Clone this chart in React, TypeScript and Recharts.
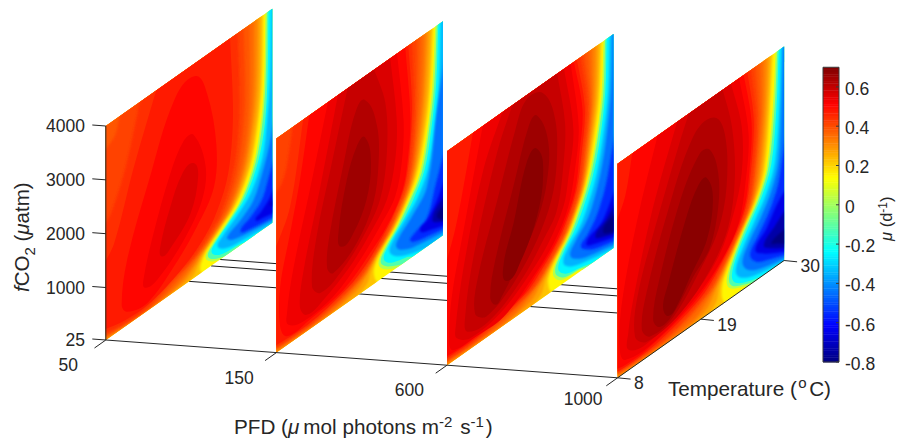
import React from "react";
import { ScatterChart, Scatter, XAxis, YAxis } from "recharts";

type Pt = [number, number];
type Contour = [number, Pt[]]; // [mu of the band, vertices as [temperature degC, fCO2 uatm]]

const W = 901;
const H = 444;
const INK = "#262626";
const FONT = "'Liberation Sans', Arial, sans-serif";

const pfdTicks = [50, 150, 600, 1000];
const co2Ticks = [25, 1000, 2000, 3000, 4000];
const tempTicks = [8, 19, 30];
const muTicks = [0.6, 0.4, 0.2, 0, -0.2, -0.4, -0.6, -0.8];
const gridTemps = [19, 21.9, 23.1];
const baseMu = 0.15;

const panel50: Contour[] = [
  [0.03, [[29.1,4000],[28.9,2710],[28.4,1955],[27.5,1360],[25.8,864],[23.6,586],[21.8,388],[21.2,236],[22.3,70],[24.9,25],[30,25],[30,4000]]],
  [-0.12, [[29.3,4000],[29.1,2710],[28.65,1955],[27.8,1360],[26.1,864],[23.95,586],[22.15,390],[21.5,240],[22.6,90],[25.3,25],[30,25],[30,4000]]],
  [-0.25, [[29.5,4000],[29.35,2710],[29,1955],[28.15,1360],[26.5,864],[24.4,600],[22.6,410],[22,260],[23.2,110],[25.8,45],[27,25],[30,25],[30,4000]]],
  [-0.35, [[29.9,4000],[29.7,2710],[29.3,1955],[28.7,1360],[27.2,864],[25.2,600],[23.4,420],[22.8,290],[24,150],[26.5,80],[30,40],[30,4000]]],
  [-0.45, [[30,2110],[29.6,1500],[28.9,1170],[27.5,685],[25.7,480],[24,340],[24.6,240],[26.7,155],[30,105]]],
  [-0.55, [[30,1300],[29.5,900],[28.6,580],[27,400],[25.8,280],[27,200],[30,145]]],
  [-0.65, [[30,750],[29.5,494],[28.5,370],[27.8,290],[28.8,235],[30,225]]],
  [-0.69, [[30,500],[29.6,400],[30,320]]],
  [0.225, [[8,25],[21,25],[20.5,70],[20.7,236],[21.4,388],[23.1,586],[25.3,864],[27.1,1360],[28,1955],[28.6,2710],[28.8,4000],[8,4000]]],
  [0.275, [[8,25],[17,25],[19.5,70],[20.3,236],[21.1,388],[22.8,586],[25,864],[26.8,1360],[27.7,1955],[28.3,2710],[28.5,4000],[8,4000]]],
  [0.32, [[8,25],[11,25],[18,70],[19.8,236],[20.8,388],[22.5,586],[24.7,864],[26.4,1360],[27.3,1955],[27.9,2710],[28.1,4000],[8,4000]]],
  [0.355, [[8,38],[12,34],[16.5,60],[19.2,236],[20.5,388],[22.3,586],[24.4,864],[26.1,1360],[27,1955],[27.5,2710],[27.6,4000],[8,4000]]],
  [0.385, [[8,55],[11,48],[15,60],[18.3,236],[20.1,388],[22,586],[24.1,864],[25.7,1360],[26.6,1955],[27,2710],[27,4000],[8,4000]]],
  [0.415, [[8,80],[11,65],[14,70],[17,236],[19.6,388],[21.6,586],[23.6,864],[25.2,1360],[26,1955],[26.4,2710],[26.2,4000],[9.9,4000],[9.2,3700],[8,3500]]],
  [0.445, [[8,130],[10,100],[13,85],[15.5,236],[19.2,388],[21.1,586],[23.1,864],[24.6,1360],[25.4,1955],[25.7,2710],[25.4,4000],[12.6,4000],[10.6,2970],[8.8,2340],[8,2100]]],
  [0.475, [[8,210],[10,150],[13,120],[15,170],[18.6,388],[20.6,586],[22.3,864],[23.9,1360],[24.6,1955],[24.8,2710],[24.4,4000],[14.8,4000],[11.7,2867],[9.1,1707],[8,1400]]],
  [0.505, [[19.8,3760],[21.4,3269],[22.6,2220],[22.3,1456],[20,931],[17,497],[13.5,168],[10.8,271],[10.1,466],[10.8,1226],[13.7,2422],[17,3575]]],
  [0.535, [[19.6,2688],[21.2,1933],[20.7,1360],[18.3,860],[14.8,470],[13.2,480],[13,672],[14.3,1378],[16.5,2263],[18.3,2704]]],
  [0.565, [[19.6,2163],[20.2,1843],[19.2,1265],[16.5,876],[15.4,844],[15.2,1042],[16.5,1646],[18.1,2115]]],
];

const panel150: Contour[] = [
  [0.03, [[29,4000],[28.6,2930],[27.9,2140],[26.9,1470],[25.3,1080],[23.9,800],[22,510],[21.5,325],[22.4,145],[24.8,25],[30,25],[30,4000]]],
  [-0.12, [[29.2,4000],[28.85,2930],[28.15,2140],[27.2,1470],[25.6,1080],[24.2,800],[22.3,510],[21.8,330],[22.7,170],[25.3,25],[30,25],[30,4000]]],
  [-0.25, [[29.4,4000],[29.1,2930],[28.45,2140],[27.55,1470],[26,1060],[24.6,800],[22.7,520],[22.2,350],[23.2,190],[25.5,70],[26.5,25],[30,25],[30,4000]]],
  [-0.35, [[29.75,4000],[29.5,2930],[28.9,2140],[28,1440],[26.6,1040],[25,800],[23.3,560],[23,400],[24,230],[26,90],[28.5,25],[30,25],[30,4000]]],
  [-0.45, [[30,3500],[29.2,2400],[27.9,1140],[25.7,748],[24.2,560],[23.9,400],[25.2,240],[27,160],[30,100]]],
  [-0.55, [[30,1700],[29,1040],[27.9,560],[26.2,430],[25.7,350],[26.6,260],[27.9,210],[30,160]]],
  [-0.65, [[30,1150],[29.2,750],[28,520],[27,400],[28.5,280],[30,220]]],
  [-0.74, [[30,820],[28.6,450],[30,280]]],
  [-0.8, [[30,620],[29.2,460],[30,300]]],
  [0.225, [[8,25],[21.5,25],[21,120],[20.9,300],[21.7,520],[23.7,820],[25,1080],[26.5,1470],[27.6,2140],[28.3,2930],[28.7,4000],[8,4000]]],
  [0.275, [[8,25],[18,25],[20,120],[20.5,300],[21.4,520],[23.5,820],[24.8,1080],[26.2,1470],[27.3,2140],[28,2930],[28.4,4000],[8,4000]]],
  [0.32, [[8,25],[12,25],[18.5,120],[20,300],[21.2,520],[23.3,820],[24.6,1080],[26,1470],[27,2140],[27.6,2930],[28,4000],[8,4000]]],
  [0.355, [[8,40],[12,50],[16,80],[19.6,300],[21,520],[23.1,820],[24.4,1080],[25.8,1470],[26.7,2140],[27.3,2930],[27.6,4000],[8,4000]]],
  [0.385, [[8,60],[11,70],[15,100],[19.2,300],[20.8,520],[22.9,820],[24.2,1080],[25.6,1470],[26.4,2140],[26.9,2930],[27.1,4000],[8,4000]]],
  [0.415, [[8,80],[11,90],[14,120],[18.7,300],[20.6,520],[22.7,820],[24,1080],[25.4,1470],[26.2,2140],[26.5,2930],[26.6,4000],[8,4000]]],
  [0.445, [[8,100],[10,110],[13,120],[18,300],[20.4,520],[22.5,820],[23.8,1080],[25.2,1470],[25.9,2140],[26.2,2930],[25.9,4000],[10.2,4000],[9.5,3450],[8.9,3150],[8,2900]]],
  [0.475, [[8,130],[12,130],[17.5,300],[20.1,520],[22.2,820],[23.6,1080],[25,1470],[25.7,2140],[25.9,2930],[25.4,4000],[11.6,4000],[9.8,2550],[8,1860]]],
  [0.505, [[12.4,4000],[25,4000],[25.7,2610],[25.2,1720],[24.4,1310],[22.6,930],[20.4,650],[16.9,315],[12.4,200],[9.4,190],[8.5,455],[8.5,1200],[9.8,2055],[11.1,2917]]],
  [0.535, [[14.9,4000],[23.9,4000],[24.8,2685],[24.6,1965],[23.7,1373],[21.7,1015],[19.1,655],[15.5,320],[11.6,250],[9.6,383],[9.4,617],[10.2,1335],[12.7,2768]]],
  [0.565, [[16.2,4000],[23,4000],[23.9,2775],[23.7,2050],[22.6,1420],[20.4,1020],[17.7,660],[14.2,390],[12,330],[11.1,570],[11.6,1205],[13.8,2533]]],
  [0.595, [[17.5,4000],[20.8,4000],[22.4,3233],[22.6,2287],[21.7,1510],[19.5,1045],[16.4,668],[13.8,558],[12.7,792],[13.3,1650],[15.3,2812]]],
  [0.625, [[19.7,3560],[21.3,2915],[21.5,2210],[20.8,1535],[18.6,1006],[15.5,757],[14.7,935],[15,1496],[16.9,2665],[18.4,3440]]],
  [0.655, [[19.7,2867],[20.5,2306],[19.9,1683],[18.2,1241],[16.6,1138],[16.2,1440],[17.3,2315],[18.6,2800]]],
];

const panel600: Contour[] = [
  [0.03, [[28.7,4000],[28.4,3010],[27.6,2220],[26.5,1580],[24.9,1050],[24,830],[22.7,585],[22,322],[23,117],[25.6,55],[26.2,25],[30,25],[30,4000]]],
  [-0.12, [[28.9,4000],[28.65,3010],[27.85,2220],[26.8,1580],[25.2,1050],[24.3,830],[23,590],[22.3,330],[23.3,140],[25.8,65],[27,25],[30,25],[30,4000]]],
  [-0.25, [[29.1,4000],[28.9,3010],[28.2,2220],[27.15,1580],[25.6,1050],[24.7,830],[23.4,600],[22.7,350],[23.7,170],[26,80],[28,25],[30,25],[30,4000]]],
  [-0.35, [[29.5,4000],[29.3,3010],[28.6,2220],[27.7,1580],[26.3,1050],[25.4,830],[24,620],[23.4,390],[24.6,220],[27,110],[30,40],[30,4000]]],
  [-0.45, [[29.9,4000],[29.7,3010],[29.1,2220],[28.3,1580],[27.1,1050],[26.2,830],[25,650],[24.3,440],[25.5,270],[27.5,170],[30,100],[30,4000]]],
  [-0.55, [[30,2300],[29.6,1700],[28.9,1250],[27.8,850],[26.6,610],[25.7,470],[26.7,320],[28,230],[30,170]]],
  [-0.65, [[30,1200],[29.5,900],[28.4,650],[26.4,460],[28,320],[30,240]]],
  [-0.74, [[30,900],[29,640],[27.6,470],[29,340],[30,300]]],
  [-0.8, [[30,700],[28.6,470],[30,330]]],
  [0.225, [[8,25],[22,25],[21.5,100],[21.4,322],[22.4,585],[23.8,830],[24.7,1050],[26.3,1580],[27.3,2220],[28.1,3010],[28.4,4000],[8,4000]]],
  [0.275, [[8,25],[19,25],[20.5,120],[21,322],[22.1,585],[23.6,830],[24.5,1050],[26.1,1580],[27,2220],[27.8,3010],[28.1,4000],[8,4000]]],
  [0.32, [[8,25],[13,25],[19,110],[20.5,322],[21.9,585],[23.4,830],[24.35,1050],[25.95,1580],[26.8,2220],[27.5,3010],[27.7,4000],[8,4000]]],
  [0.355, [[8,40],[12,55],[17,90],[20,322],[21.7,585],[23.2,830],[24.2,1050],[25.8,1580],[26.6,2220],[27.2,3010],[27.2,4000],[8,4000]]],
  [0.385, [[8,60],[11,75],[15.5,110],[19.6,322],[21.5,585],[23.05,830],[24.05,1050],[25.65,1580],[26.4,2220],[27,3010],[26.7,4000],[8,4000]]],
  [0.415, [[8,80],[10.5,95],[14,130],[19.2,322],[21.3,585],[22.9,830],[23.9,1050],[25.5,1580],[26.2,2220],[26.8,3010],[26.1,4000],[8,4000]]],
  [0.445, [[8,95],[10,110],[13,140],[18.8,322],[21,585],[22.7,830],[23.7,1050],[25.3,1580],[26,2220],[26.5,3010],[25.6,4000],[8,4000]]],
  [0.475, [[8,120],[12,150],[18.3,322],[20.7,585],[22.4,830],[23.5,1050],[25.1,1580],[25.8,2220],[26.2,3010],[25.1,4000],[8,4000]]],
  [0.505, [[8,160],[11,170],[17.7,322],[20.2,585],[22.1,830],[23.2,1050],[24.9,1580],[25.5,2220],[25.9,3010],[24.7,4000],[11.5,4000],[10,3000],[9,2400],[8,1790]]],
  [0.535, [[12.8,4000],[24.3,4000],[25.4,2736],[24.9,1980],[24,1373],[22.1,899],[19.4,542],[15.5,184],[11.5,180],[8.8,224],[8.3,399],[8.6,1202],[10.2,2322]]],
  [0.565, [[15.5,4000],[23.4,4000],[24.7,2748],[24,1881],[23.4,1452],[21.4,967],[19,645],[15,291],[11,224],[9.3,399],[9.1,570],[10.2,1635],[12.8,3181]]],
  [0.595, [[16.8,4000],[22.5,4000],[23.6,2982],[23.4,2243],[22.5,1456],[20.7,1086],[18.1,669],[14.1,315],[10.8,367],[10.4,689],[11.5,1695],[14.6,3312]]],
  [0.625, [[20.7,3820],[22.3,3173],[22.5,2350],[21.8,1730],[19.9,1174],[16.8,677],[13.2,415],[11.7,617],[12.1,1261],[14.6,2410],[17,3490],[18.5,3920]]],
  [0.655, [[19.9,3483],[21.4,2827],[21.2,2124],[20.1,1583],[18.1,1102],[15.2,578],[14.4,514],[13.7,733],[14.4,1357],[16.8,2490],[18.8,3400]]],
  [0.685, [[19.9,2867],[20.7,2281],[19.9,1615],[17.7,979],[15.9,808],[15.5,1178],[16.8,1794],[18.5,2736]]],
];

const panel1000: Contour[] = [
  [0.03, [[28.9,4000],[28.5,3010],[27.7,1975],[26.4,1510],[24.6,1120],[23.1,717],[22.4,412],[22.8,225],[24.6,70],[26,25],[30,25],[30,4000]]],
  [-0.12, [[29.1,4000],[28.75,3010],[27.95,1975],[26.7,1510],[24.9,1120],[23.4,730],[22.7,420],[23.1,240],[24.9,90],[27,25],[30,25],[30,4000]]],
  [-0.25, [[29.3,4000],[29,3010],[28.3,1975],[27.05,1510],[25.3,1120],[23.8,750],[23.1,440],[23.5,260],[25.2,110],[28.5,25],[30,25],[30,4000]]],
  [-0.35, [[29.6,4000],[29.4,3010],[28.8,1975],[27.7,1510],[26,1120],[24.5,790],[23.6,480],[24.1,300],[26,140],[30,40],[30,4000]]],
  [-0.45, [[29.9,4000],[29.7,3010],[29.3,1975],[28.4,1510],[26.9,1120],[25.4,830],[24.5,540],[25.2,330],[27,180],[30,90],[30,4000]]],
  [-0.55, [[30,2500],[29.8,1975],[29.2,1510],[28,1120],[26.6,830],[25.5,580],[26.3,370],[28,240],[30,140]]],
  [-0.65, [[30,1400],[29,1150],[27.7,850],[26.2,590],[27.5,400],[30,190]]],
  [-0.74, [[30,1020],[28.8,790],[27.3,570],[28.5,400],[30,260]]],
  [-0.8, [[30,650],[28.3,520],[29.2,420],[30,330]]],
  [0.225, [[8,25],[22.3,25],[21.8,150],[21.9,412],[22.85,717],[24.45,1120],[26.2,1510],[27.4,1975],[28.1,3010],[28.5,4000],[8,4000]]],
  [0.275, [[8,25],[19.5,25],[21,130],[21.5,412],[22.6,717],[24.3,1120],[26,1510],[27.1,1975],[27.8,3010],[28.2,4000],[8,4000]]],
  [0.32, [[8,25],[14,25],[19.5,110],[21.1,412],[22.4,717],[24.15,1120],[25.8,1510],[26.8,1975],[27.5,3010],[27.8,4000],[8,4000]]],
  [0.355, [[8,40],[12,55],[18,100],[20.7,412],[22.2,717],[24,1120],[25.65,1510],[26.5,1975],[27.2,3010],[27.3,4000],[8,4000]]],
  [0.385, [[8,60],[11,75],[16,110],[20.3,412],[22,717],[23.9,1120],[25.5,1510],[26.2,1975],[26.9,3010],[26.8,4000],[8,4000]]],
  [0.415, [[8,80],[10.5,95],[15,130],[19.8,412],[21.8,717],[23.8,1120],[25.3,1510],[26,1975],[26.6,3010],[26.2,4000],[8,4000]]],
  [0.445, [[8,95],[10,110],[14,140],[19.3,412],[21.6,717],[23.65,1120],[25.1,1510],[25.8,1975],[26.3,3010],[25.6,4000],[8,4000]]],
  [0.475, [[8,115],[9,125],[13,150],[18.8,412],[21.3,717],[23.5,1120],[24.9,1510],[25.5,1975],[26,3010],[25.1,4000],[8,4000]]],
  [0.505, [[8,170],[9,165],[12,170],[18,412],[21,717],[23.3,1120],[24.7,1510],[25.3,1975],[25.7,3010],[24.6,4000],[10,4000],[9,3300],[8,2835]]],
  [0.535, [[13.4,4000],[24,4000],[25.3,2851],[24.9,1977],[24,1317],[22,888],[18.5,502],[13.1,216],[9,256],[8.3,502],[8.5,1293],[10.5,2650]]],
  [0.565, [[16,4000],[22.9,4000],[24.4,3070],[24.4,2204],[23.3,1543],[21.3,947],[17.6,522],[12.7,291],[9.6,379],[9.4,709],[10.3,1424],[12.7,2740]]],
  [0.595, [[17.6,4000],[21.8,4000],[23.1,3205],[23.5,2211],[22.6,1369],[20.2,820],[16.3,403],[11.8,315],[10.3,558],[10.7,1320],[13.6,2585],[16.3,3626]]],
  [0.625, [[20.7,3600],[22.2,3125],[22.4,2148],[21.3,1452],[18.9,947],[15.4,426],[12.3,367],[11.2,605],[11.8,1217],[14.5,2410],[18,3515]]],
  [0.655, [[20.2,3054],[21.3,2505],[21.3,1885],[20.2,1233],[18,911],[15.4,490],[13.6,415],[12.7,633],[13.4,1245],[16.3,2509],[18.9,3121]]],
  [0.685, [[19.8,2569],[20.6,2084],[19.8,1420],[17.6,955],[16,613],[14.7,510],[14,745],[14.7,1118],[17.1,2116],[18.7,2549]]],
];

const panels = [panel50, panel150, panel600, panel1000];

// oblique projection of (PFD slice, temperature, fCO2) on the chart plane
const project = (slice: number, t: number, c: number): Pt => {
  const u = (t - 8) / 22;
  const v = (c - 25) / 3975;
  return [105.8 + 170.6 * slice + 166.5 * u, 340 + 12.6 * slice - 117.3 * u - 214 * v];
};
const barY = (mu: number) => 362 - (mu + 0.8) * 196.5;

const clamp = (v: number) => Math.max(0, Math.min(1, v));
const jet = (mu: number) => {
  const t = clamp((mu + 0.8) / 1.5);
  const r = clamp(1.5 - Math.abs(4 * t - 3));
  const g = clamp(1.5 - Math.abs(4 * t - 2));
  const b = clamp(1.5 - Math.abs(4 * t - 1));
  return `rgb(${Math.round(r * 255)},${Math.round(g * 255)},${Math.round(b * 255)})`;
};

const smoothPath = (p: Pt[], edge: boolean[]) => {
  const n = p.length;
  const dir = (i: number): Pt => {
    const a = p[(i + n - 1) % n];
    const b = p[(i + 1) % n];
    const dx = b[0] - a[0];
    const dy = b[1] - a[1];
    const l = Math.hypot(dx, dy) || 1;
    return [dx / l, dy / l];
  };
  let d = `M${p[0][0].toFixed(2)} ${p[0][1].toFixed(2)}`;
  for (let i = 0; i < n; i++) {
    const j = (i + 1) % n;
    const a = p[i];
    const b = p[j];
    if (edge[i] && edge[j]) {
      d += `L${b[0].toFixed(2)} ${b[1].toFixed(2)}`;
      continue;
    }
    const l = Math.hypot(b[0] - a[0], b[1] - a[1]) / 3;
    const ux = (b[0] - a[0]) / (3 * l || 1);
    const uy = (b[1] - a[1]) / (3 * l || 1);
    const da: Pt = edge[i] ? [ux, uy] : dir(i);
    const db: Pt = edge[j] ? [ux, uy] : dir(j);
    d += `C${(a[0] + da[0] * l).toFixed(2)} ${(a[1] + da[1] * l).toFixed(2)} ${(b[0] - db[0] * l).toFixed(2)} ${(b[1] - db[1] * l).toFixed(2)} ${b[0].toFixed(2)} ${b[1].toFixed(2)}`;
  }
  return d + "Z";
};

// vertices on the slice border are pushed just past it: the clip path gives the true border
const pushOut = (p: Pt[], verts: Pt[]): Pt[] =>
  p.map((q, i) => {
    const [t, c] = verts[i];
    return [
      q[0] + (t === 30 ? 3 : t === 8 ? -3 : 0),
      q[1] + (c === 25 ? 3 : c === 4000 ? -3 : 0),
    ];
  });

type Series = { data: any[]; buf: Pt[]; draw: (p: Pt[]) => React.ReactElement };
const series: Series[] = [];
const add = (pts: Pt[], draw: (p: Pt[]) => React.ReactElement) =>
  series.push({
    data: pts.map(([x, y], i) => ({ x, y, i, n: pts.length })),
    buf: [],
    draw,
  });
const line = (a: Pt, b: Pt, width = 1, color = INK) =>
  add([a, b], (p) => (
    <line x1={p[0][0]} y1={p[0][1]} x2={p[1][0]} y2={p[1][1]} stroke={color} strokeWidth={width} />
  ));
const label = (at: Pt, text: string, anchor: "start" | "middle" | "end") =>
  add([at], (p) => (
    <text x={p[0][0]} y={p[0][1]} textAnchor={anchor} dominantBaseline="central" fontFamily={FONT} fontSize={17.5} fill={INK}>
      {text}
    </text>
  ));

// soft edges for the bands of the steep cold side and the warm flank
add([[0, 0]], () => (
  <defs>
    <filter id="soft-blue" x="-20%" y="-20%" width="140%" height="140%">
      <feGaussianBlur stdDeviation="1.3" />
    </filter>
    <filter id="soft-warm" x="-20%" y="-20%" width="140%" height="140%">
      <feGaussianBlur stdDeviation="0.9" />
    </filter>
    <filter id="soft-thin" x="-20%" y="-20%" width="140%" height="140%">
      <feGaussianBlur stdDeviation="0.45" />
    </filter>
  </defs>
));

// back guide lines on the floor of the box
gridTemps.forEach((t) => line(project(0, t, 25), project(3, t, 25), 1, "#1a1a1a"));

// slices
panels.forEach((contours, s) => {
  const corners: Pt[] = [project(s, 8, 25), project(s, 30, 25), project(s, 30, 4000), project(s, 8, 4000)];
  const id = `slice-${s}`;
  add(corners, (p) => (
    <g>
      <defs>
        <clipPath id={id}>
          <polygon points={p.map((q) => q.join(",")).join(" ")} />
        </clipPath>
      </defs>
      <polygon points={p.map((q) => q.join(",")).join(" ")} fill={jet(baseMu)} />
    </g>
  ));
  contours.forEach(([mu, verts]) => {
    const edge = verts.map(([t, c]) => t === 8 || t === 30 || c === 25 || c === 4000);
    const filter =
      mu < -0.3 ? "url(#soft-blue)" : mu < 0.1 ? "url(#soft-thin)" : mu < 0.46 ? "url(#soft-warm)" : undefined;
    add(
      verts.map(([t, c]) => project(s, t, c)),
      (p) => (
        <g clipPath={`url(#${id})`}>
          <path d={smoothPath(pushOut(p, verts), edge)} fill={jet(mu)} filter={filter} />
        </g>
      )
    );
  });
});

// box edges and ticks
line(project(0, 8, 25), project(0, 8, 4000));
line(project(0, 8, 25), project(3, 8, 25));
line(project(3, 8, 25), project(3, 30, 25));
co2Ticks.forEach((c) => {
  const p = project(0, 8, c);
  line([p[0] - 13.5, p[1] - 1], p);
  label([85, p[1] + 0.3], String(c), "end");
});
const pfdLabelOffset: Pt[] = [[-27.8, 25], [-22.6, 25.4], [-23, 25], [-15, 21]];
pfdTicks.forEach((v, s) => {
  const p = project(s, 8, 25);
  line([p[0] - 11.3, p[1] + 8], p);
  label([p[0] + pfdLabelOffset[s][0], p[1] + pfdLabelOffset[s][1]], String(v), "end");
});
tempTicks.forEach((t) => {
  const p = project(3, t, 25);
  line(p, [p[0] + 13, p[1] + 1.3]);
  label([p[0] + 16.5, p[1] + 5.5], String(t), "start");
});

// colour bar
const barSteps = 128;
for (let i = 0; i < barSteps; i++) {
  const lo = -0.8 + (1.5 * i) / barSteps;
  const hi = -0.8 + (1.5 * (i + 1)) / barSteps;
  const mid = (lo + hi) / 2;
  add([[823, barY(lo) + 0.4], [839, barY(lo) + 0.4], [839, barY(hi)], [823, barY(hi)]], (p) => (
    <polygon points={p.map((q) => q.join(",")).join(" ")} fill={jet(mid)} />
  ));
}
add([[823, barY(-0.8)], [839, barY(-0.8)], [839, barY(0.7)], [823, barY(0.7)]], (p) => (
  <polygon points={p.map((q) => q.join(",")).join(" ")} fill="none" stroke="#3a3a3a" strokeWidth={1} />
));
muTicks.forEach((m) => {
  line([836, barY(m)], [839, barY(m)], 1, "#3a3a3a");
  label([845, barY(m) + 1.8], String(m), "start");
});

// axis titles
const titleSize = 20.7;
const sup = 15;
add([[234, 434]], (p) => (
  <text x={p[0][0]} y={p[0][1]} fontFamily={FONT} fontSize={titleSize} fill={INK}>
    PFD (<tspan fontStyle="italic">{"\u03bc"}</tspan>
    <tspan dx={4}>mol photons m</tspan>
    <tspan dy={-7} fontSize={sup}>-2</tspan>
    <tspan dy={7} dx={2}> s</tspan>
    <tspan dy={-7} fontSize={sup}>-1</tspan>
    <tspan dy={7} dx={2}>)</tspan>
  </text>
));
add([[668, 396]], (p) => (
  <text x={p[0][0]} y={p[0][1]} fontFamily={FONT} fontSize={titleSize} fill={INK}>
    Temperature (<tspan dy={-8} dx={1.5} fontSize={sup}>o</tspan>
    <tspan dy={8} dx={2.5}>C)</tspan>
  </text>
));
add([[29, 292]], (p) => (
  <text x={p[0][0]} y={p[0][1]} transform={`rotate(-90 ${p[0][0]} ${p[0][1]})`} fontFamily={FONT} fontSize={20.5} fill={INK}>
    <tspan fontStyle="italic">f</tspan>CO<tspan dy={6} fontSize={sup}>2</tspan>
    <tspan dy={-6}> (</tspan>
    <tspan fontStyle="italic">{"\u03bc"}</tspan>atm)
  </text>
));
add([[892, 241]], (p) => (
  <text x={p[0][0]} y={p[0][1]} transform={`rotate(-90 ${p[0][0]} ${p[0][1]})`} fontFamily={FONT} fontSize={16.5} fill={INK}>
    <tspan fontStyle="italic">{"\u03bc"}</tspan> (d<tspan dy={-5} fontSize={12}>-1</tspan>
    <tspan dy={5}>)</tspan>
  </text>
));

const makeShape = (s: Series) => (props: any) => {
  const { cx, cy, payload } = props;
  if (payload.i === 0) s.buf = [];
  s.buf.push([cx, cy]);
  if (payload.i < payload.n - 1) return <g />;
  return s.draw(s.buf);
};

export default function App() {
  return (
    <div style={{ position: "absolute", left: 0, top: 0, width: W, height: H, background: "#fff" }}>
      <ScatterChart width={W} height={H} margin={{ top: 0, right: 0, bottom: 0, left: 0 }}>
        <XAxis hide type="number" dataKey="x" domain={[0, W]} allowDataOverflow />
        <YAxis hide type="number" dataKey="y" domain={[0, H]} reversed allowDataOverflow />
        {series.map((s, k) => (
          <Scatter key={k} data={s.data} isAnimationActive={false} shape={makeShape(s)} />
        ))}
      </ScatterChart>
    </div>
  );
}
